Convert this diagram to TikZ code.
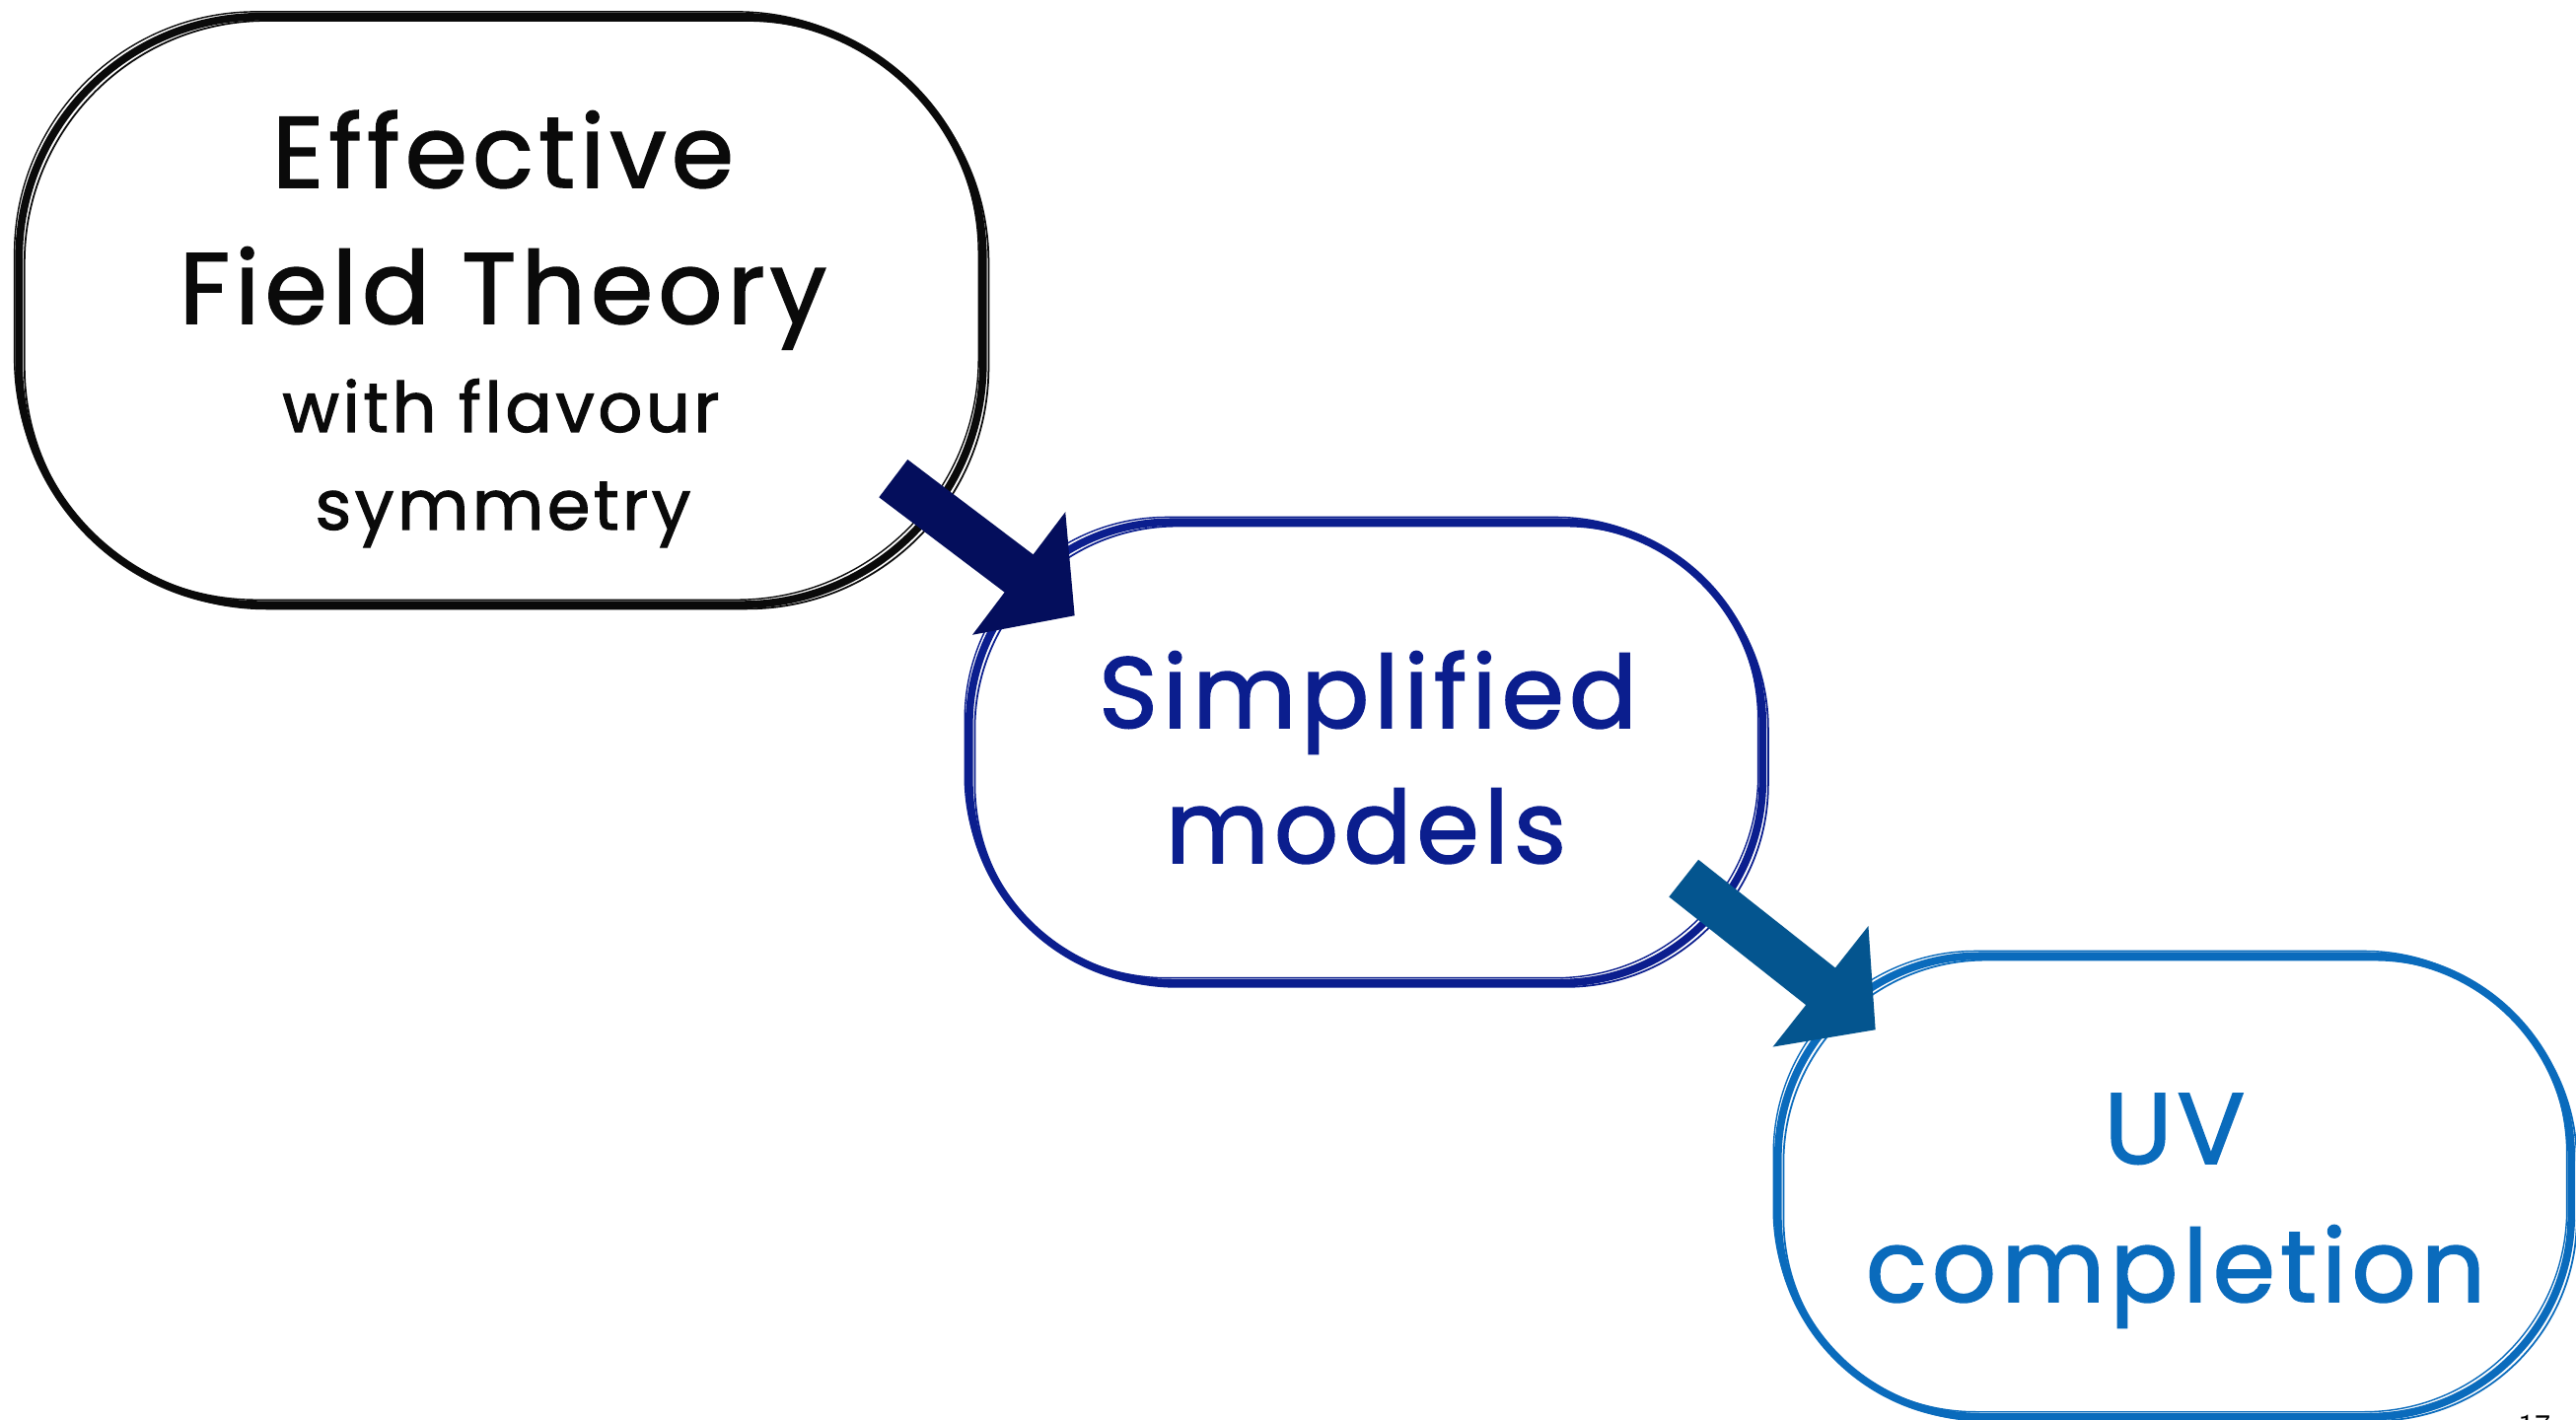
\documentclass[tikz,border=0pt]{standalone}
\usepackage{fontspec}
\setmainfont{Poppins}[FakeBold=1.6,LetterSpace=5]
\usetikzlibrary{arrows.meta,calc}

\definecolor{inkblack}{HTML}{0A0A0A}
\definecolor{navyarrow}{HTML}{040E5C}
\definecolor{simpblue}{HTML}{0B1E8E}
\definecolor{steelarrow}{HTML}{04558F}
\definecolor{uvblue}{HTML}{0A6BBC}

\tikzset{
  sketchbox/.style={
    rectangle, outer sep=0pt, inner sep=0pt,
    draw=#1, line width=2.2pt,
    postaction={draw=#1, line width=0.5pt,
      transform canvas={xshift=1.6pt,yshift=-1.2pt}},
    postaction={draw=#1, line width=0.4pt,
      transform canvas={xshift=-1.3pt,yshift=1.4pt}}
  },
  bigtxt/.style={anchor=base, inner sep=0pt, text=#1,
    font=\fontsize{29}{32}\selectfont},
  smalltxt/.style={anchor=base, inner sep=0pt, text=#1,
    font=\fontsize{20}{23}\selectfont},
  blockarrow/.style={draw=#1, line width=0.48cm,
    -{Triangle[width=1.52cm,length=0.71cm]}}
}

\begin{document}
\begin{tikzpicture}[x=0.01cm,y=0.01cm]
  \useasboundingbox (0,0) rectangle (2612,1440);
  \fill[white] (0,0) rectangle (2612,1440);

  % the three stages
  \node[sketchbox=inkblack, minimum width=9.77cm, minimum height=5.96cm,
        rounded corners=2.45cm] (eft) at (508,1125) {};
  \node[sketchbox=simpblue, minimum width=8.04cm, minimum height=4.67cm,
        rounded corners=2.05cm] (simp) at (1385,677) {};
  \node[sketchbox=uvblue, minimum width=8.04cm, minimum height=4.67cm,
        rounded corners=2.05cm] (uv) at (2205,237) {};

  % labels
  \node[bigtxt=inkblack] (eftA) at (510,1250) {Effective};
  \node[bigtxt=inkblack] (eftB) at (510,1112) {Field Theory};
  \node[smalltxt=inkblack] (eftC) at (508,1002) {with flavour};
  \node[smalltxt=inkblack] (eftD) at (510,903) {symmetry};

  \node[bigtxt=simpblue] (simpA) at (1387,702) {Simplified};
  \node[bigtxt=simpblue] (simpB) at (1385,565) {models};

  \node[bigtxt=uvblue] (uvA) at (2205,260) {UV};
  \node[bigtxt=uvblue] (uvB) at (2206,120) {completion};

  % block arrows between the stages
  \coordinate (a1s) at ($(eft.south east)+(-91,128)$);
  \coordinate (a1e) at ($(simp.north west)+(107,-95)$);
  \coordinate (a2s) at ($(simp.south east)+(-80,106)$);
  \coordinate (a2e) at ($(uv.north west)+(99,-75)$);
  \draw[blockarrow=navyarrow] (a1s) -- (a1e);
  \draw[blockarrow=steelarrow] (a2s) -- (a2e);

  % page number at the lower edge
  \node[anchor=north west, inner sep=0pt, font=\sffamily\fontsize{9}{10}\selectfont]
    (pg) at (2553,6) {17};
\end{tikzpicture}
\end{document}
